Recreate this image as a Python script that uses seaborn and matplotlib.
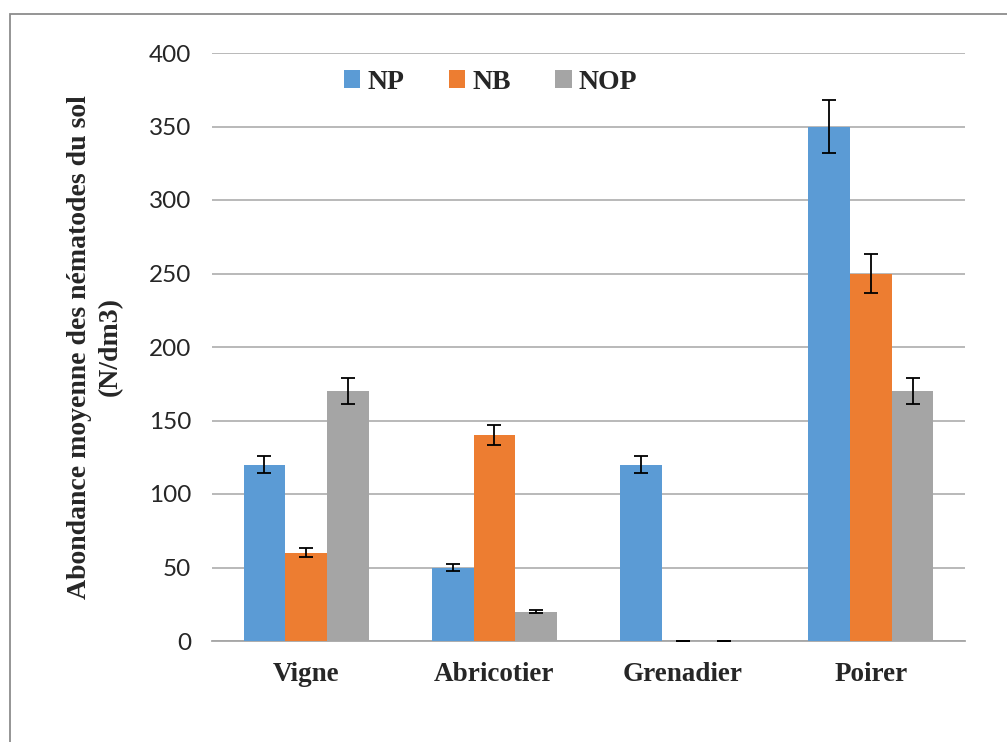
import matplotlib
matplotlib.use("Agg")
import matplotlib.pyplot as plt
import seaborn as sns
import pandas as pd
import numpy as np
from matplotlib.patches import Rectangle

# Mean nematode abundance per crop and trophic group
cultures = ["Vigne", "Abricotier", "Grenadier", "Poirer"]
groupes = ["NP", "NB", "NOP"]
np_vals = [120, 50, 120, 350]
nb_vals = [60, 140, 0, 250]
nop_vals = [170, 20, 0, 170]
np_err = [6, 2.5, 6, 18]
nb_err = [3, 7, 0, 13]
nop_err = [9, 1, 0, 9]
couleurs = ["#5B9BD5", "#ED7D31", "#A5A5A5"]

rows = []
for g, vals, errs in zip(groupes, [np_vals, nb_vals, nop_vals], [np_err, nb_err, nop_err]):
    for c, v, e in zip(cultures, vals, errs):
        rows.append({"Culture": c, "Groupe": g, "Valeur": v, "Erreur": e})
df = pd.DataFrame(rows)

sns.set_theme(style="white")
plt.rcParams["font.family"] = ["Liberation Serif", "DejaVu Serif"]

W, H = 1007, 742
fig = plt.figure(figsize=(W / 100, H / 100), dpi=100)
fig.patch.set_facecolor("white")
ax = fig.add_axes([212 / W, (H - 641) / H, (965 - 212) / W, (641 - 53) / H])

sns.barplot(data=df, x="Culture", y="Valeur", hue="Groupe", order=cultures,
            hue_order=groupes, palette=couleurs, width=0.665, errorbar=None,
            saturation=1, ax=ax, zorder=3, linewidth=0)

# error bars placed on the centre of each drawn bar
bars = [p for p in ax.patches if isinstance(p, Rectangle) and p.get_width() > 0][:len(df)]
for p, (_, r) in zip(bars, df.iterrows()):
    xc = p.get_x() + p.get_width() / 2
    ax.errorbar(xc, r["Valeur"], yerr=r["Erreur"], fmt="none", ecolor="black",
                elinewidth=1.3, capsize=5, capthick=1.3, zorder=4)

ax.set_ylim(0, 400)
ax.set_xlim(-0.5, 3.5)
ax.set_yticks(np.arange(0, 401, 50))
ax.yaxis.grid(True, color="#b3b3b3", linewidth=1.3, zorder=0)
ax.set_axisbelow(True)
for s in ["top", "right", "left"]:
    ax.spines[s].set_visible(False)
ax.spines["bottom"].set_color("#a6a6a6")
ax.spines["bottom"].set_linewidth(1.3)

ax.tick_params(axis="y", length=0, pad=15, labelsize=17.5)
for lbl in ax.get_yticklabels():
    lbl.set_fontfamily("Lato")
ax.set_xticks(range(len(cultures)))
ax.set_xticklabels(cultures, fontsize=19.5, fontweight="bold")
ax.tick_params(axis="x", length=0, pad=15)
# category boundary ticks
ax.set_xticks(np.arange(-0.5, 3.6, 1), minor=True)
ax.tick_params(axis="x", which="minor", length=7, width=1.3, color="#a6a6a6", direction="out")

ax.set_xlabel("")
ax.set_ylabel("Abondance moyenne des nématodes du sol\n(N/dm3)", fontsize=20,
              fontweight="bold", labelpad=19, linespacing=1.3)

leg = ax.legend(loc="upper center", bbox_to_anchor=(0.37, 1.014), ncol=3, frameon=False,
                prop={"family": "Liberation Serif", "weight": "bold", "size": 20},
                handlelength=0.6, handleheight=0.6, handletextpad=0.25, columnspacing=1.6)
leg.set_title(None)

# outer frame of the chart area
fig.add_artist(Rectangle((10 / W, -0.05), 1.1, (H - 14) / H + 0.05, transform=fig.transFigure,
                         fill=False, edgecolor="#8c8c8c", linewidth=1.3))

fig.savefig("out.png", dpi=100, facecolor="white")
